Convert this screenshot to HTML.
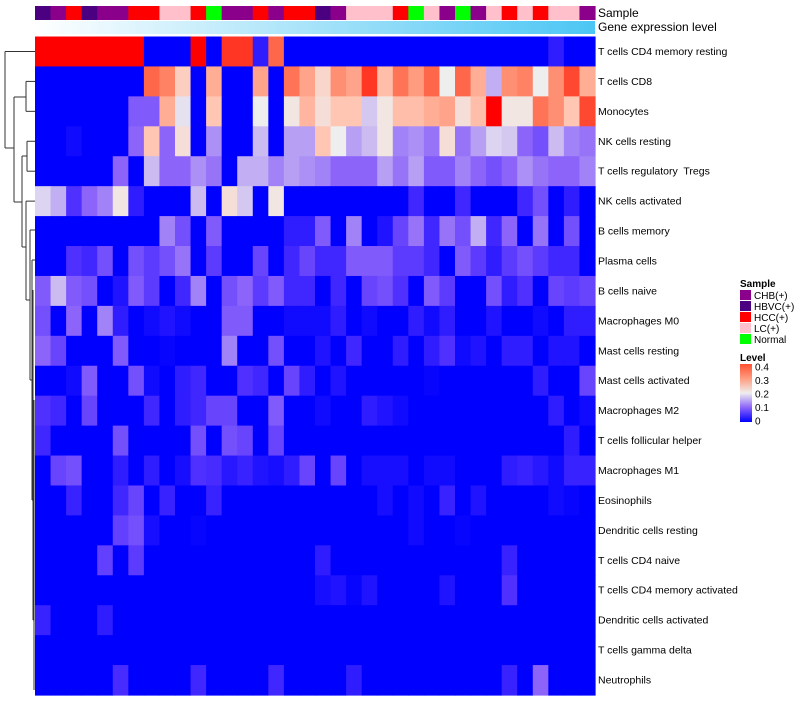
<!DOCTYPE html>
<html><head><meta charset="utf-8"><style>
body{margin:0;background:#fff;font-family:"Liberation Sans",sans-serif}
svg text{font-family:"Liberation Sans",sans-serif;white-space:pre}
</style></head><body>
<svg id="chart" width="800" height="700">
<defs>
<linearGradient id="geneGrad" x1="0" x2="1" y1="0" y2="0"><stop offset="0" stop-color="#ffffff"/><stop offset="1" stop-color="#4cc6f4"/></linearGradient>
<linearGradient id="levelGrad" x1="0" x2="0" y1="1" y2="0"><stop offset="0" stop-color="#0000ff"/><stop offset="0.25" stop-color="#8c64fa"/><stop offset="0.5" stop-color="#eeeeee"/><stop offset="0.75" stop-color="#ff9c80"/><stop offset="1" stop-color="#ff5030"/></linearGradient>
</defs>
<g id="dendro" stroke="#333" stroke-width="1" fill="none"></g>
<g id="cells"></g>
<g id="samples"></g>
<rect x="35" y="21" width="560" height="13" fill="url(#geneGrad)"/>
<text x="598" y="17" font-size="12">Sample</text>
<text x="598" y="31" font-size="12">Gene expression level</text>
<g id="rowlabels"></g>
<g>
<text x="740" y="287" font-size="10" font-weight="bold">Sample</text>
<g id="legendItems"></g>
</g>
<g>
<text x="740" y="361" font-size="10" font-weight="bold">Level</text>
<rect x="740" y="364" width="12" height="58" fill="url(#levelGrad)"/>
<g id="levelTicks"></g>
</g>
</svg>
<script>
const rowNames=["T cells CD4 memory resting","T cells CD8","Monocytes","NK cells resting","T cells regulatory  Tregs","NK cells activated","B cells memory","Plasma cells","B cells naive","Macrophages M0","Mast cells resting","Mast cells activated","Macrophages M2","T cells follicular helper","Macrophages M1","Eosinophils","Dendritic cells resting","T cells CD4 naive","T cells CD4 memory activated","Dendritic cells activated","T cells gamma delta","Neutrophils"];
const sampleGroups=["HBVC(+)","CHB(+)","HCC(+)","HBVC(+)","CHB(+)","CHB(+)","HCC(+)","HCC(+)","LC(+)","LC(+)","HCC(+)","Normal","CHB(+)","CHB(+)","HCC(+)","CHB(+)","HCC(+)","HCC(+)","HBVC(+)","CHB(+)","LC(+)","LC(+)","LC(+)","HCC(+)","Normal","LC(+)","CHB(+)","Normal","CHB(+)","LC(+)","HCC(+)","LC(+)","HCC(+)","LC(+)","LC(+)","CHB(+)"];
const groupNames=["CHB(+)","HBVC(+)","HCC(+)","LC(+)","Normal"];
const groupColors=["#8b008b","#4b0082","#ff0000","#ffc0cb","#00ff00"];
const levelTicks=[0,0.1,0.2,0.3,0.4];
const r1=[.5,.5,.5,.5,.5,.5,.5,0,0,0,.5,0,.37,.37,.03,.34,0,0,0,0,0,0,0,0,0,0,0,0,0,0,0,0,0,.03,0,0];
const r2=[0,0,0,0,0,0,0,.34,.32,.24,0,.28,0,0,.29,0,.33,.29,.23,.31,.29,.37,.26,.33,.3,.34,.2,.34,.28,.15,.31,.32,.2,.31,.36,.28];
const r3=[0,0,0,0,0,0,.09,.09,.28,.19,0,.25,0,0,.2,0,.21,.27,.22,.25,.25,.17,.21,.26,.26,.28,.29,.22,.26,.42,.21,.21,.33,.31,.25,.36];
const r4=[0,0,.01,0,0,0,.1,.25,.1,.22,0,.13,0,0,.16,0,.14,.14,.25,.2,.14,.16,.21,.12,.13,.11,.22,.11,.14,.18,.17,.1,.08,.16,.12,.11];
const r5=[0,0,0,0,0,.1,0,.16,.1,.1,.13,.11,0,.15,.15,.12,.14,.13,.12,.1,.1,.1,.14,.11,.14,.09,.09,.12,.1,.08,.1,.13,.11,.1,.1,.12];
const r6=[.18,.15,.05,.1,.12,.21,.03,0,0,0,.16,0,.22,.17,0,.21,0,0,0,0,0,0,0,0,.04,0,0,.04,0,0,0,.04,.08,0,.03,0];
const r7=[0,0,0,0,0,0,0,0,.12,.08,0,.09,0,0,0,0,.03,.03,.09,0,.12,0,.02,.07,.11,.04,.11,.08,.15,.04,.1,0,.11,0,.08,0];
const r8=[0,0,.05,.04,.08,0,.08,.06,.08,.11,0,.06,0,0,.07,0,.04,.07,.04,.04,.09,.09,.09,.06,.06,.04,0,.09,.06,.03,.06,.08,.06,.04,.04,0];
const r9=[.09,.16,.09,.08,0,.02,.09,.06,0,.04,.12,0,.08,.1,.06,.09,.04,.04,0,.04,0,.07,.08,.05,0,.09,.06,0,0,.08,.03,.05,0,.07,.06,.07];
const r10=[.08,0,.1,0,.12,.03,0,.01,.02,.01,0,0,.09,.09,0,0,.01,.01,.01,.03,0,.01,0,0,.03,.01,.03,0,0,.02,0,0,.01,0,.03,.03];
const r11=[.1,.07,0,0,0,.09,0,0,.005,0,0,0,.12,0,0,.08,0,0,.02,0,.04,0,0,.03,0,.03,.05,.01,.02,0,.03,.03,0,.02,.02,0];
const r12=[0,0,.01,.09,0,0,.08,.01,0,.03,.04,0,0,.05,.04,0,.07,.03,0,.02,0,0,0,0,0,.005,0,0,0,0,0,0,.03,0,0,.07];
const r13=[.05,.04,0,.07,0,0,0,.04,0,.03,.04,.07,.07,0,0,.09,0,0,.01,0,0,.03,.02,.01,0,0,0,0,0,0,0,0,0,.03,0,.01];
const r14=[.04,0,0,0,0,.08,0,0,0,0,.08,0,.08,.07,0,.07,0,0,0,0,0,0,0,0,0,0,0,0,0,0,0,0,0,0,.03,0];
const r15=[0,.07,.08,0,0,.03,0,.03,0,.015,.05,.045,.025,.035,.02,.015,.03,.07,0,.07,0,.015,.015,.015,0,.01,.01,0,0,0,.03,.035,.025,.01,.035,.035];
const r16=[0,0,.035,0,0,.04,.07,0,.035,0,0,.035,0,0,0,0,0,0,0,0,0,0,.015,0,.01,0,.035,0,.02,0,0,0,0,.01,.005,0];
const r17=[0,0,0,0,0,.065,.08,.015,0,0,.005,0,0,0,0,0,0,0,0,0,0,0,0,0,.01,0,0,.005,0,0,0,0,0,0,0,0];
const r18=[0,0,0,0,.065,0,.06,0,0,0,0,0,0,0,0,0,0,0,.03,0,0,0,0,0,0,0,0,0,0,0,.035,0,0,0,0,0];
const r19=[0,0,0,0,0,0,0,0,0,0,0,0,0,0,0,0,0,0,.015,.02,.005,.02,0,0,0,0,.02,0,0,0,.05,0,0,0,0,0];
const r20=[.035,0,0,0,.03,0,0,0,0,0,0,0,0,0,0,0,0,0,0,0,0,0,0,0,0,0,0,0,0,0,0,0,0,0,0,0];
const r21=[0,0,0,0,0,0,0,0,0,0,0,0,0,0,0,0,0,0,0,0,0,0,0,0,0,0,0,0,0,0,0,0,0,0,0,0];
const r22=[0,0,0,0,0,.045,0,0,0,0,.04,0,0,0,0,.04,0,0,0,0,.03,0,0,0,0,0,0,0,0,0,.035,0,.1,0,0,0];
const values=[r1,r2,r3,r4,r5,r6,r7,r8,r9,r10,r11,r12,r13,r14,r15,r16,r17,r18,r19,r20,r21,r22];

const NS="http://www.w3.org/2000/svg";
const X0=35,X1=595,Y0=36.5,Y1=695;
const nC=sampleGroups.length,nR=rowNames.length;
const cw=(X1-X0)/nC,rh=(Y1-Y0)/nR;
function xPos(i){return X0+i*cw;}
function yPos(j){return Y0+j*rh;}
const stops=[[0,[0,0,255]],[.05,[80,48,255]],[.1,[140,100,250]],[.15,[194,174,242]],[.2,[238,238,238]],[.25,[255,198,180]],[.3,[255,156,128]],[.35,[255,90,60]],[.4,[255,0,0]]];
function color(v){
 if(v<=0)return "rgb(0,0,255)";if(v>=.4)return "rgb(255,0,0)";
 for(let k=0;k<stops.length-1;k++){const a=stops[k],b=stops[k+1];if(v>=a[0]&&v<=b[0]){const t=(v-a[0])/(b[0]-a[0]);const c=a[1].map((x,i)=>Math.round(x+(b[1][i]-x)*t));return "rgb("+c.join(",")+")";}}
}
function mk(tag,attrs,parent){const e=document.createElementNS(NS,tag);for(const k in attrs)e.setAttribute(k,attrs[k]);parent.appendChild(e);return e;}
const cells=document.getElementById("cells");
values.forEach((row,j)=>row.forEach((v,i)=>{
 const r=mk("rect",{x:xPos(i),y:yPos(j),width:cw+0.6,height:rh+0.6,fill:color(v)},cells);
 
 
}));
const samples=document.getElementById("samples");
sampleGroups.forEach((g,i)=>{
 const r=mk("rect",{x:xPos(i),y:6,width:cw+0.6,height:14,fill:groupColors[groupNames.indexOf(g)]},samples);
 
 
});
const rl=document.getElementById("rowlabels");
rowNames.forEach((n,j)=>{
 const t=mk("text",{x:598,y:yPos(j)+rh/2+3.5,"font-size":"10.5",fill:"#000"},rl);
 t.textContent=n;
 
 
});
const li=document.getElementById("legendItems");
groupNames.forEach((g,k)=>{
 const y=290+k*11;
 const r=mk("rect",{x:740,y:y,width:11,height:10,fill:groupColors[k]},li);
 
 
 const t=mk("text",{x:754,y:y+9,"font-size":"10"},li);
 t.textContent=g;
 
 
});
const lt=document.getElementById("levelTicks");
levelTicks.forEach(v=>{
 const y=421-v/0.4*54;
 const t=mk("text",{x:755,y:y+3.5,"font-size":"10"},lt);
 t.textContent=String(v);
 
 
});
const d=document.getElementById("dendro");
function cy(j){return yPos(j)+rh/2;}
const segs=[
 [5,cy(0),5,148],[5,cy(0),35,cy(0)],[5,148,14,148],
 [14,97,14,202],[14,97,26,97],[26,cy(1),26,cy(2)],[26,cy(1),35,cy(1)],[26,cy(2),35,cy(2)],
 [14,202,22,202],[22,156,22,247],[22,156,27,156],[27,cy(3),27,cy(4)],[27,cy(3),35,cy(3)],[27,cy(4),35,cy(4)],
 [22,247,26,247],[26,cy(5),26,300],[26,cy(5),35,cy(5)],[26,300,30,300],
 [30,230,30,380],[30,230,35,230],[30,380,32,380],[32,260,32,500],[32,260,35,260],
 [32,500,33,500],[33,290,33,620],[33,620,34,620],[34,400,34,690]
];
segs.forEach(s=>{
 const l=mk("line",{x1:s[0],y1:s[1],x2:s[2],y2:s[3]},d);
 
 
});
</script>
</body></html>
